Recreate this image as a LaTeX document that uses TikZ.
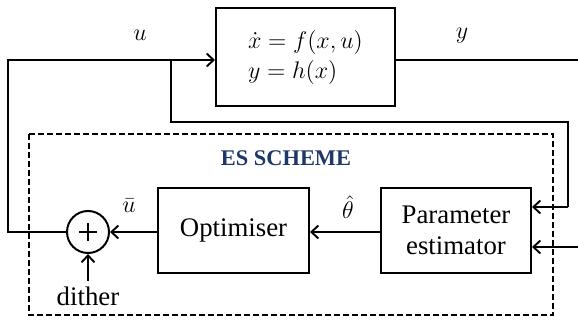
\documentclass[tikz,border=0pt]{standalone}
\usepackage{amsmath}
\usepackage{fontspec}
\setmainfont{Liberation Serif}
\usetikzlibrary{arrows.meta,calc}
\definecolor{esblue}{RGB}{30,55,105}
\begin{document}
\begin{tikzpicture}[x=0.5pt,y=-0.5pt,
  sig/.style={line width=0.95pt},
  arr/.style={sig,-{Straight Barb[length=3.5pt,width=6.5pt,line width=0.95pt]}},
  lbl/.style={font=\large},
  txt/.style={font=\fontsize{13.4}{15.5}\selectfont}]
\useasboundingbox (0,0) rectangle (578,321);
% plant
\node[draw,line width=1pt,minimum width=179*0.5pt,minimum height=98*0.5pt,inner sep=0,align=left,font=\large] (plant) at (305.5,57) {$\dot{x}=f(x,u)$\\[1pt]$y=h(x)$};
% dashed box
\draw[line width=0.8pt,dash pattern=on 3pt off 1.5pt] (29,134) rectangle (553,315);
\node[font=\fontsize{11.2}{13}\selectfont\bfseries,text=esblue] (es) at (286,158) {ES SCHEME};
% blocks
\node[draw,line width=1pt,minimum width=151*0.5pt,minimum height=85*0.5pt,inner sep=0,txt] (opt) at (233.5,230.5) {Optimiser};
\node[draw,line width=1pt,minimum width=150*0.5pt,minimum height=85*0.5pt,inner sep=0,txt,align=center] (pe) at (456,230.5) {Parameter\\estimator};
\node[draw,circle,line width=1pt,minimum size=42*0.5pt,inner sep=0] (sum) at (88,232) {};
\draw[line width=0.6pt] ($(sum)+(-9,0)$) -- ($(sum)+(9,0)$) ($(sum)+(0,-9)$) -- ($(sum)+(0,9)$);
\node[txt] (dither) at (88,296) {dither};
% coordinates
\coordinate (ul) at (8,60);
\coordinate (ll) at (8,232);
\coordinate (br) at (171,60);
\coordinate (bd) at (171,122);
\coordinate (rc) at (568,122);
\coordinate (rd) at (568,207);
\coordinate (yout) at (578,60);
\coordinate (yin) at (578,247);
\coordinate (dt) at (88,281);
% connectors
\draw[arr] (sum.west) -- (ll) -- (ul) -- (plant.west |- ul);
\draw[sig] (br) -- (bd) -- (rc) -- (rd);
\draw[arr] (rd) -- (pe.east |- rd);
\draw[sig] (plant.east |- yout) -- (yout);
\draw[arr] (yin) -- (pe.east |- yin);
\draw[arr] (pe.west |- sum) -- (opt.east |- sum);
\draw[arr] (opt.west |- sum) -- (sum.east);
\draw[arr] (dt) -- (sum.south);
% labels
\node[lbl] (lu) at (140,35) {$u$};
\node[lbl] (ly) at (462,36) {$y$};
\node[lbl] (lub) at (129,206) {$\bar{u}$};
\node[lbl] (lth) at (348,207) {$\hat{\theta}$};
\end{tikzpicture}
\end{document}
